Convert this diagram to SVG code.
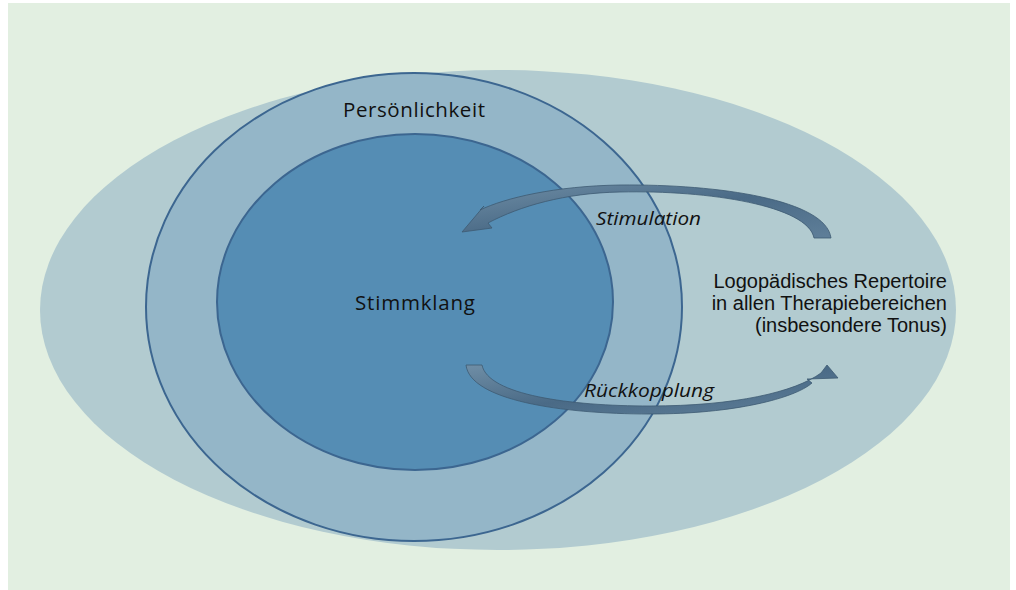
<svg xmlns="http://www.w3.org/2000/svg" width="1016" height="590" viewBox="0 0 1016 590">
<defs>
<linearGradient id="arrowGrad" x1="0" y1="0" x2="1" y2="1">
<stop offset="0" stop-color="#6f8ea6"/>
<stop offset="0.5" stop-color="#4a6a86"/>
<stop offset="1" stop-color="#5f7f99"/>
</linearGradient>
<style>
.lbl{font-family:"Open Sans","Liberation Sans",sans-serif;font-size:20px;fill:#111;}
.big{font-size:20.5px;}
.side{font-family:"Liberation Sans","Open Sans",sans-serif;font-size:20px;}
.it{font-style:italic;font-size:18.5px;}
.ring{stroke:#3c6690;stroke-width:2;}
.arrow{fill:url(#arrowGrad);stroke:#3e5a72;stroke-width:0.8;}
</style>
</defs>
<rect x="8" y="3" width="1002" height="587" fill="#e2efe1"/>
<g id="outer">
<ellipse cx="498" cy="310" rx="458" ry="240" fill="#b2cbd0"/>
<text class="lbl side" x="947" y="288" text-anchor="end">Logopädisches Repertoire</text>
<text class="lbl side" x="947" y="310" text-anchor="end">in allen Therapiebereichen</text>
<text class="lbl side" x="947" y="332" text-anchor="end">(insbesondere Tonus)</text>
</g>
<g id="personality">
<ellipse class="ring" cx="414" cy="307" rx="268" ry="234" fill="#94b6c8"/>
<text class="lbl big" x="343" y="117" textLength="142" lengthAdjust="spacing">Persönlichkeit</text>
</g>
<g id="voice">
<ellipse class="ring" cx="415" cy="302" rx="198" ry="168" fill="#558db4"/>
<text class="lbl big" x="355" y="310" textLength="120" lengthAdjust="spacing">Stimmklang</text>
</g>
<g id="connectors">
<path class="arrow" d="M831,238 C826,200 720,184 620,185 C555,186 505,198 480,210 L484,206 L462,232 L492,228 L488,223 C520,206 565,193 620,192 C710,190 808,206 814,238 Z"/>
<path class="arrow" d="M466,365 C470,400 560,414 650,414 C735,414 795,398 812,383 L807,379 L838,378 L827,365 L821,373 C795,392 735,406 650,406 C570,406 488,395 482,365 Z"/>
<text class="lbl it" x="596" y="225" textLength="105" lengthAdjust="spacingAndGlyphs">Stimulation</text>
<text class="lbl it" x="584" y="397" textLength="130" lengthAdjust="spacingAndGlyphs">Rückkopplung</text>
</g>
</svg>
